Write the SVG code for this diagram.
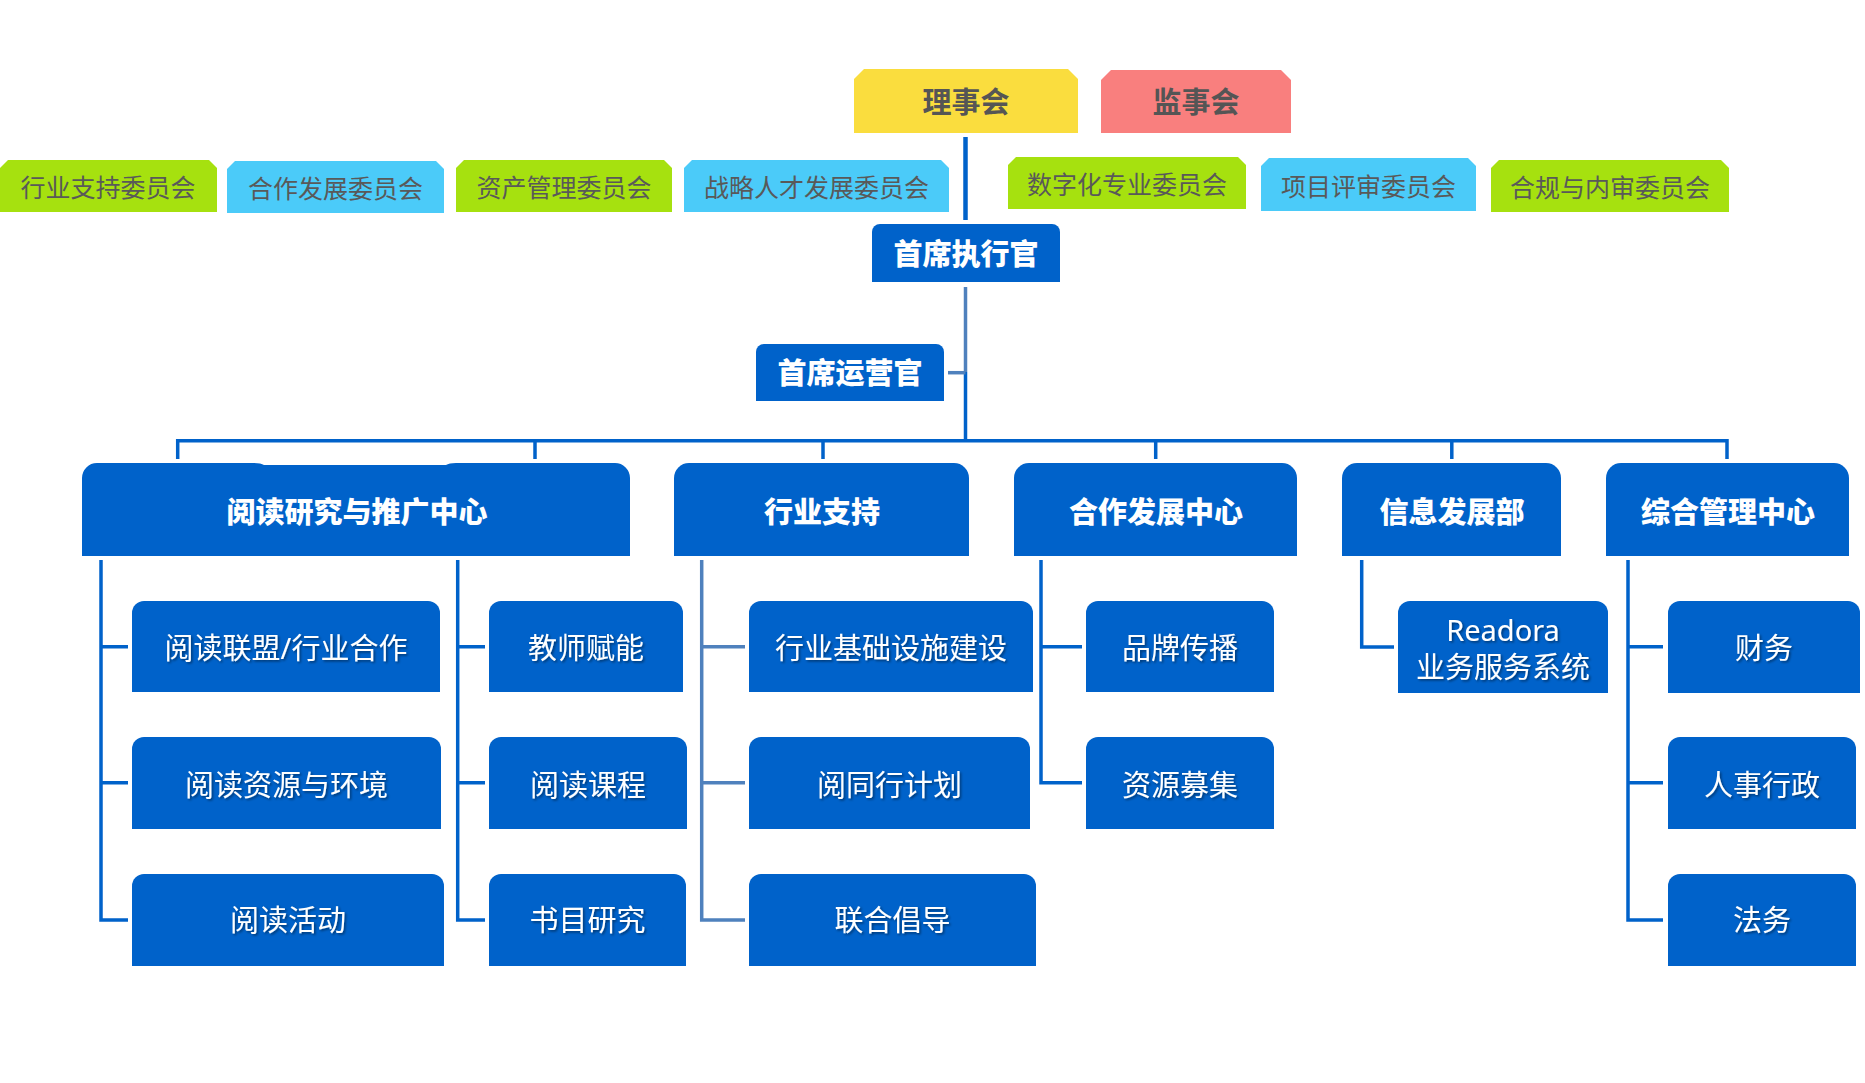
<svg xmlns="http://www.w3.org/2000/svg" width="1865" height="1083" viewBox="0 0 1865 1083">
<defs>
<filter id="ts" x="-10%" y="-30%" width="120%" height="160%">
<feDropShadow dx="1.5" dy="1.5" stdDeviation="1" flood-color="#000" flood-opacity="0.45"/>
</filter>
<style>
.dk{fill:#0062CA}
.g{fill:#A6E10F}
.b{fill:#4BCBF9}
.y{fill:#FADD3E}
.r{fill:#F97F7E}
.ct{font-family:"Noto Sans CJK SC","Noto Sans",sans-serif;font-size:25px;fill:#595959;text-anchor:middle}
.bt{font-family:"Noto Sans CJK SC","Noto Sans",sans-serif;font-size:29px;font-weight:700;fill:#555555;text-anchor:middle}
.h1{font-family:"Noto Sans CJK SC","Noto Sans",sans-serif;font-size:29px;font-weight:900;fill:#FFFFFF;text-anchor:middle}
.h2{font-family:"Noto Sans","Noto Sans CJK SC",sans-serif;font-size:29px;fill:#FFFFFF;text-anchor:middle;filter:url(#ts)}
.ln{stroke:#0062CA;stroke-width:3.5;fill:none}
.ls{stroke:#4F81BD;stroke-width:3.5;fill:none}
</style>
</defs>
<rect width="1865" height="1083" fill="#FFFFFF"/>

<g id="connectors">
<path class="ln" d="M965.5,137 V220" style="stroke-width:4.5"/>
<path class="ls" d="M965.5,287 V372"/>
<path class="ln" d="M965.5,372 V441"/>
<path class="ls" d="M948,372.7 H965.5"/>
<path class="ln" d="M177.7,459 V440.7 H1727 V459"/>
<path class="ln" d="M535,440.7 V459 M823,440.7 V459 M1155.7,440.7 V459 M1451.8,440.7 V459"/>
<path class="ln" d="M101,560 V920 H128 M101,646.7 H128 M101,782.7 H128"/>
<path class="ln" d="M457.7,560 V920 H485 M457.7,646.7 H485 M457.7,782.7 H485"/>
<path class="ls" d="M701.7,560 V920 H745 M701.7,646.7 H745 M701.7,782.7 H745"/>
<path class="ln" d="M1041,560 V782.7 H1082 M1041,646.7 H1082"/>
<path class="ln" d="M1361.7,560 V647 H1394"/>
<path class="ln" d="M1628,560 V920 H1663 M1628,646.7 H1663 M1628,782.7 H1663"/>
</g>

<g id="board">
<path class="y" d="M854,79 L864,69 H1068 L1078,79 V133 H854 Z"/>
<text class="bt" x="966" y="113">理事会</text>
</g>
<g id="supervisors">
<path class="r" d="M1101,80 L1111,70 H1281 L1291,80 V133 H1101 Z"/>
<text class="bt" x="1196" y="113">监事会</text>
</g>

<g id="c1"><path class="g" d="M0,168 L8,160 H209 L217,168 V212 H0 Z"/><text class="ct" x="108" y="197">行业支持委员会</text></g>
<g id="c2"><path class="b" d="M227,169 L235,161 H436 L444,169 V213 H227 Z"/><text class="ct" x="335.5" y="198">合作发展委员会</text></g>
<g id="c3"><path class="g" d="M456,168 L464,160 H664 L672,168 V212 H456 Z"/><text class="ct" x="564" y="197">资产管理委员会</text></g>
<g id="c4"><path class="b" d="M684,168 L692,160 H941 L949,168 V212 H684 Z"/><text class="ct" x="816.5" y="197">战略人才发展委员会</text></g>
<g id="c5"><path class="g" d="M1008,165 L1016,157 H1238 L1246,165 V209 H1008 Z"/><text class="ct" x="1127" y="194">数字化专业委员会</text></g>
<g id="c6"><path class="b" d="M1261,166 L1269,158 H1468 L1476,166 V211 H1261 Z"/><text class="ct" x="1368.5" y="195.5">项目评审委员会</text></g>
<g id="c7"><path class="g" d="M1491,168 L1499,160 H1721 L1729,168 V212 H1491 Z"/><text class="ct" x="1610" y="197">合规与内审委员会</text></g>

<g id="ceo">
<path class="dk" d="M872,282 V232 A8,8 0 0 1 880,224 H1052 A8,8 0 0 1 1060,232 V282 Z"/>
<text class="h1" x="966" y="264.5">首席执行官</text>
</g>
<g id="coo">
<path class="dk" d="M756,401 V352 A8,8 0 0 1 764,344 H936 A8,8 0 0 1 944,352 V401 Z"/>
<text class="h1" x="850" y="384">首席运营官</text>
</g>

<g id="d1">
<path class="dk" d="M82,556 V478 A15,15 0 0 1 97,463 H254 Q261,463 264,465 H446 Q449,463 456,463 H615 A15,15 0 0 1 630,478 V556 Z"/>
<text class="h1" x="357" y="523">阅读研究与推广中心</text>
</g>
<g id="d2">
<path class="dk" d="M674,556 V478 A15,15 0 0 1 689,463 H954 A15,15 0 0 1 969,478 V556 Z"/>
<text class="h1" x="822" y="523">行业支持</text>
</g>
<g id="d3">
<path class="dk" d="M1014,556 V478 A15,15 0 0 1 1029,463 H1282 A15,15 0 0 1 1297,478 V556 Z"/>
<text class="h1" x="1156" y="523">合作发展中心</text>
</g>
<g id="d4">
<path class="dk" d="M1342,556 V478 A15,15 0 0 1 1357,463 H1546 A15,15 0 0 1 1561,478 V556 Z"/>
<text class="h1" x="1452" y="523">信息发展部</text>
</g>
<g id="d5">
<path class="dk" d="M1606,556 V478 A15,15 0 0 1 1621,463 H1834 A15,15 0 0 1 1849,478 V556 Z"/>
<text class="h1" x="1728" y="523">综合管理中心</text>
</g>

<g id="s1"><path class="dk" d="M132,692 V613 A12,12 0 0 1 144,601 H428 A12,12 0 0 1 440,613 V692 Z"/><text class="h2" x="286" y="659">阅读联盟/行业合作</text></g>
<g id="s2"><path class="dk" d="M132,829 V749 A12,12 0 0 1 144,737 H429 A12,12 0 0 1 441,749 V829 Z"/><text class="h2" x="286.5" y="795.5">阅读资源与环境</text></g>
<g id="s3"><path class="dk" d="M132,966 V886 A12,12 0 0 1 144,874 H432 A12,12 0 0 1 444,886 V966 Z"/><text class="h2" x="288" y="931">阅读活动</text></g>
<g id="s4"><path class="dk" d="M489,692 V613 A12,12 0 0 1 501,601 H671 A12,12 0 0 1 683,613 V692 Z"/><text class="h2" x="586" y="659">教师赋能</text></g>
<g id="s5"><path class="dk" d="M489,829 V749 A12,12 0 0 1 501,737 H675 A12,12 0 0 1 687,749 V829 Z"/><text class="h2" x="588" y="795.5">阅读课程</text></g>
<g id="s6"><path class="dk" d="M489,966 V886 A12,12 0 0 1 501,874 H674 A12,12 0 0 1 686,886 V966 Z"/><text class="h2" x="587.5" y="931">书目研究</text></g>
<g id="s7"><path class="dk" d="M749,692 V613 A12,12 0 0 1 761,601 H1021 A12,12 0 0 1 1033,613 V692 Z"/><text class="h2" x="891" y="659">行业基础设施建设</text></g>
<g id="s8"><path class="dk" d="M749,829 V749 A12,12 0 0 1 761,737 H1018 A12,12 0 0 1 1030,749 V829 Z"/><text class="h2" x="889.5" y="795.5">阅同行计划</text></g>
<g id="s9"><path class="dk" d="M749,966 V886 A12,12 0 0 1 761,874 H1024 A12,12 0 0 1 1036,886 V966 Z"/><text class="h2" x="892.5" y="931">联合倡导</text></g>
<g id="s10"><path class="dk" d="M1086,692 V613 A12,12 0 0 1 1098,601 H1262 A12,12 0 0 1 1274,613 V692 Z"/><text class="h2" x="1180" y="659">品牌传播</text></g>
<g id="s11"><path class="dk" d="M1086,829 V749 A12,12 0 0 1 1098,737 H1262 A12,12 0 0 1 1274,749 V829 Z"/><text class="h2" x="1180" y="795.5">资源募集</text></g>
<g id="s12"><path class="dk" d="M1398,693 V613 A12,12 0 0 1 1410,601 H1596 A12,12 0 0 1 1608,613 V693 Z"/><text class="h2" x="1503" y="640.5">Readora</text><text class="h2" x="1503" y="678">业务服务系统</text></g>
<g id="s13"><path class="dk" d="M1668,693 V613 A12,12 0 0 1 1680,601 H1848 A12,12 0 0 1 1860,613 V693 Z"/><text class="h2" x="1764" y="659">财务</text></g>
<g id="s14"><path class="dk" d="M1668,829 V749 A12,12 0 0 1 1680,737 H1844 A12,12 0 0 1 1856,749 V829 Z"/><text class="h2" x="1762" y="795.5">人事行政</text></g>
<g id="s15"><path class="dk" d="M1668,966 V886 A12,12 0 0 1 1680,874 H1844 A12,12 0 0 1 1856,886 V966 Z"/><text class="h2" x="1762" y="931">法务</text></g>
</svg>
